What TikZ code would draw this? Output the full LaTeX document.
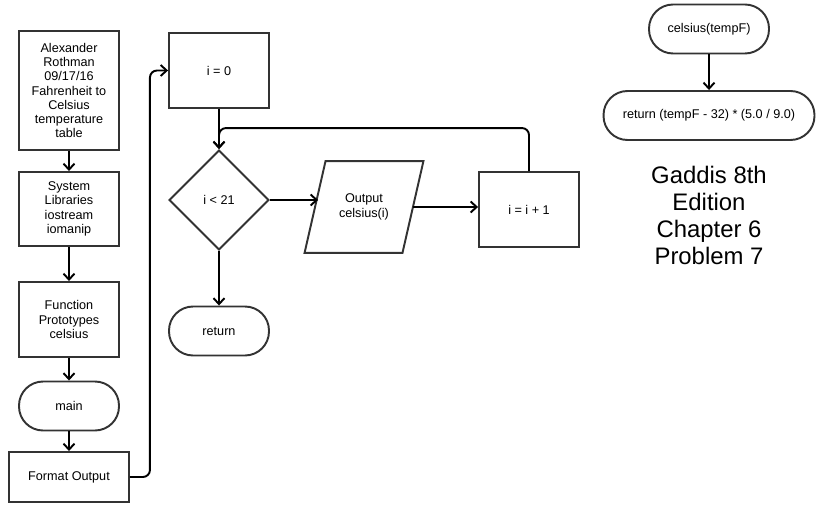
\documentclass[tikz,border=0pt]{standalone}
\usepackage{fontspec}
\setmainfont{Liberation Sans}
\usetikzlibrary{shapes.geometric,arrows.meta}

\newcommand\chartfont{\fontsize{7.2}{8.1}\selectfont}

\begin{document}
\begin{tikzpicture}[x=0.02cm,y=-0.02cm,>={Straight Barb[length=1.2mm,width=2.2mm]},
		every path/.style={line width=1.1pt},
		box/.style={draw=black!80,rectangle,minimum width=2cm,align=center,inner sep=0pt,font=\chartfont},
		term/.style={box,rounded corners=0.48cm,minimum height=0.98cm},
		test/.style={draw=black!80,diamond,aspect=1,minimum width=2cm,minimum height=2cm,inner sep=0pt,font=\chartfont},
		io/.style={rectangle,minimum width=1.92cm,minimum height=1.8cm,inner sep=0pt,align=center,font=\chartfont},
		flow/.style={->,black}]

		\useasboundingbox (0,0) rectangle (830,523);

		% main column
		\node[box,minimum height=2.38cm] (author) at (69,90.5) {Alexander\\Rothman\\09/17/16\\Fahrenheit to\\Celsius\\temperature\\table};
		\node[box,minimum height=1.48cm] (libs) at (69,209) {System\\Libraries\\iostream\\iomanip};
		\node[box,minimum height=1.5cm] (proto) at (69,319.5) {Function\\Prototypes\\celsius};
		\node[term] (main) at (69,406) {main};
		\node[box,minimum width=2.4cm,minimum height=1cm] (format) at (69,477) {Format Output};

		% loop
		\node[box,minimum height=1.5cm] (init) at (219,70.5) {i = 0};
		\node[test] (cond) at (219,200) {i < 21};
		\node[term] (ret) at (219,331) {return};
		\node[io] (output) at (364,207) {Output\\celsius(i)};
		\draw[draw=black!80] ([xshift=-0.21cm]output.south west) -- ([xshift=0.21cm]output.north west)
			-- ([xshift=0.21cm]output.north east) -- ([xshift=-0.21cm]output.south east) -- cycle;
		\node[box,minimum height=1.5cm] (incr) at (529,209.5) {i = i + 1};

		% function celsius
		\node[term,minimum width=2.4cm] (celsius) at (709,29) {celsius(tempF)};
		\node[term,minimum width=4.22cm] (calc) at (709,115.5) {return (tempF - 32) * (5.0 / 9.0)};

		\node[align=center,font=\fontsize{13.6}{15.3}\selectfont] (title) at (709,215.5) {Gaddis 8th\\Edition\\Chapter 6\\Problem 7};

		\draw[flow] (author) -- (libs);
		\draw[flow] (libs) -- (proto);
		\draw[flow] (proto) -- (main);
		\draw[flow] (main) -- (format);
		\draw[flow,rounded corners=4pt] (format.east) -- ++(20,0) |- (init.west);
		\draw[flow] (init) -- (cond);
		\draw[flow] (cond.east) -- ([xshift=0.06cm]cond.east -| output.west);
		\draw[flow] (output.east) -- (output.east -| incr.west);
		\draw[flow,rounded corners=4pt] (incr.north) -- ++(0,-43) -| (cond.north);
		\draw[flow] (cond) -- (ret);
		\draw[flow] (celsius) -- (calc);
	\end{tikzpicture}
\end{document}
